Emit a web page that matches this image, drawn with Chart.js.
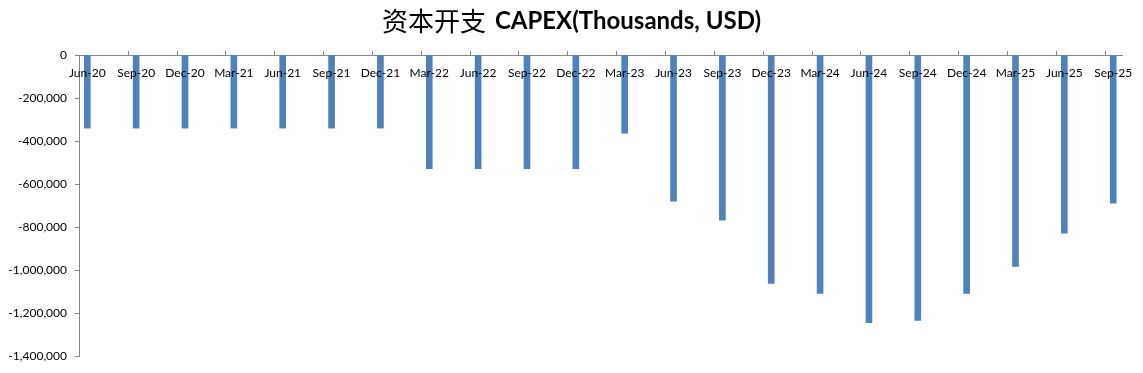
<!DOCTYPE html>
<html>
<head>
<meta charset="utf-8">
<script src="https://cdn.jsdelivr.net/npm/chart.js@4"></script>
<style>
  html, body { margin: 0; padding: 0; background: #fff; }
  #wrap { width: 1143px; height: 373px; }
</style>
</head>
<body>
<div id="wrap"><canvas id="capexChart"></canvas></div>
<script>
// quarter labels
const quarters = ["Jun-20", "Sep-20", "Dec-20", "Mar-21", "Jun-21", "Sep-21", "Dec-21",
                  "Mar-22", "Jun-22", "Sep-22", "Dec-22", "Mar-23", "Jun-23", "Sep-23",
                  "Dec-23", "Mar-24", "Jun-24", "Sep-24", "Dec-24", "Mar-25", "Jun-25", "Sep-25"];
// capex values, thousands USD
const capex = [-340000, -340000, -340000, -340000, -340000, -340000, -340000,
               -529000, -529000, -529000, -529000, -364000, -680000, -768000,
               -1062000, -1109000, -1245000, -1235000, -1109000, -983000, -829000, -689000];
const yTicks = [0, -200000, -400000, -600000, -800000, -1000000, -1200000, -1400000];
const titleCn = "资本开支";
const titleEn = "CAPEX(Thousands, USD)";

const barBlue = "#4f81bd";
const axisGray = "#868686";
const fontFamily = "Lato, 'Open Sans', sans-serif";

// title: chinese part regular, latin part bold
const titlePlugin = {
    id: "mixedTitle",
    afterDraw(chart) {
        const ctx = chart.ctx;
        ctx.save();
        ctx.fillStyle = "#000";
        ctx.textBaseline = "middle";
        const cnFont = "normal 26px 'Noto Sans CJK SC', sans-serif";
        const enFont = "bold 24px Lato, sans-serif";
        const gap = 9;
        ctx.font = cnFont;
        const w1 = ctx.measureText(titleCn).width;
        ctx.font = enFont;
        const w2 = ctx.measureText(titleEn).width;
        const x0 = chart.width / 2 - (w1 + gap + w2) / 2;
        const y = 21;
        ctx.font = cnFont;
        ctx.fillText(titleCn, x0, y);
        ctx.font = enFont;
        ctx.fillText(titleEn, x0 + w1 + gap, y);
        ctx.restore();
    }
};

// small tick marks between the quarters, like the date axis in the original
// also the quarter labels on top of the bars
const xAxisDecor = {
    id: "xAxisDecor",
    afterDraw(chart) {
        const xs = chart.scales.x, ys = chart.scales.y;
        const ctx = chart.ctx;
        const y0 = ys.getPixelForValue(0);
        ctx.save();
        ctx.strokeStyle = axisGray;
        ctx.lineWidth = 1;
        ctx.beginPath();
        for (let i = 1; i < quarters.length; i++) {
            const px = Math.round(xs.getPixelForValue(i - 0.174)) + 0.5;
            ctx.moveTo(px, y0 - 4);
            ctx.lineTo(px, y0);
        }
        ctx.stroke();
        ctx.fillStyle = "#000";
        ctx.font = "12px " + fontFamily;
        ctx.textAlign = "center";
        ctx.textBaseline = "middle";
        quarters.forEach((q, i) => {
            ctx.fillText(q, xs.getPixelForValue(i), y0 + 18);
        });
        ctx.restore();
    }
};

const points = capex.map((v, i) => ({ x: i, y: v }));

new Chart(document.getElementById("capexChart"), {
    type: "bar",
    data: {
        datasets: [{
            label: "CAPEX",
            data: points,
            backgroundColor: barBlue,
            borderWidth: 0,
            barThickness: 6
        }]
    },
    options: {
        responsive: true,
        maintainAspectRatio: false,
        animation: false,
        layout: { padding: { top: 55, right: 21, bottom: 17, left: 0 } },
        plugins: {
            legend: { display: false },
            tooltip: { enabled: false },
            title: { display: false }
        },
        scales: {
            x: {
                type: "linear",
                position: { y: 0 },
                offset: false,
                min: -0.17,
                max: 21.18,
                afterBuildTicks: axis => { axis.ticks = quarters.map((_, i) => ({ value: i })); },
                grid: { display: false },
                border: { display: true, color: axisGray, width: 1 },
                ticks: { display: false }
            },
            y: {
                min: -1400000,
                max: 0,
                afterBuildTicks: axis => { axis.ticks = yTicks.map(v => ({ value: v })); },
                afterFit: axis => { axis.width = 79; },
                grid: { drawOnChartArea: false, drawTicks: true, tickLength: 4, color: axisGray },
                border: { display: true, color: axisGray, width: 1 },
                ticks: {
                    padding: 8,
                    color: "#000",
                    font: { family: fontFamily, size: 12 },
                    callback: v => v.toLocaleString("en-US")
                }
            }
        }
    },
    plugins: [titlePlugin, xAxisDecor]
});
</script>
</body>
</html>
